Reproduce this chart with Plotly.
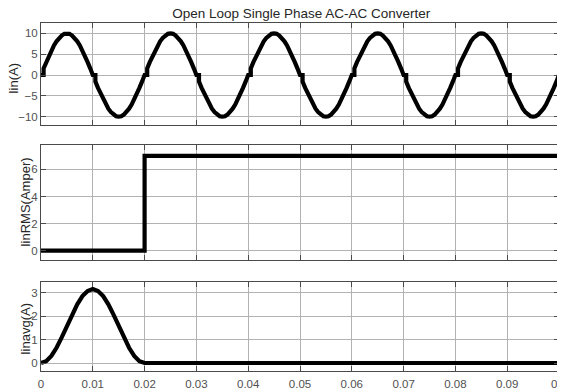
import plotly.graph_objects as go

# ---- data ----
title_text = "Open Loop Single Phase AC-AC Converter"
y_titles = ["Iin(A)", "IinRMS(Amper)", "Iinavg(A)"]

# Iin(A): sample times (s) and values (A)
iin_t = [
    0, 0.0005, 0.0005, 0.001, 0.0015, 0.002, 0.0025, 0.003, 0.0035, 0.004, 0.0045, 0.005, 0.0055, 0.006, 0.0065, 0.007, 0.0075, 0.008, 0.0085, 0.009, 0.0095,
    0.01, 0.0105, 0.0105, 0.011, 0.0115, 0.012, 0.0125, 0.013, 0.0135, 0.014, 0.0145, 0.015, 0.0155, 0.016, 0.0165, 0.017, 0.0175, 0.018, 0.0185, 0.019, 0.0195,
    0.02, 0.0205, 0.0205, 0.021, 0.0215, 0.022, 0.0225, 0.023, 0.0235, 0.024, 0.0245, 0.025, 0.0255, 0.026, 0.0265, 0.027, 0.0275, 0.028, 0.0285, 0.029, 0.0295,
    0.03, 0.0305, 0.0305, 0.031, 0.0315, 0.032, 0.0325, 0.033, 0.0335, 0.034, 0.0345, 0.035, 0.0355, 0.036, 0.0365, 0.037, 0.0375, 0.038, 0.0385, 0.039, 0.0395,
    0.04, 0.0405, 0.0405, 0.041, 0.0415, 0.042, 0.0425, 0.043, 0.0435, 0.044, 0.0445, 0.045, 0.0455, 0.046, 0.0465, 0.047, 0.0475, 0.048, 0.0485, 0.049, 0.0495,
    0.05, 0.0505, 0.0505, 0.051, 0.0515, 0.052, 0.0525, 0.053, 0.0535, 0.054, 0.0545, 0.055, 0.0555, 0.056, 0.0565, 0.057, 0.0575, 0.058, 0.0585, 0.059, 0.0595,
    0.06, 0.0605, 0.0605, 0.061, 0.0615, 0.062, 0.0625, 0.063, 0.0635, 0.064, 0.0645, 0.065, 0.0655, 0.066, 0.0665, 0.067, 0.0675, 0.068, 0.0685, 0.069, 0.0695,
    0.07, 0.0705, 0.0705, 0.071, 0.0715, 0.072, 0.0725, 0.073, 0.0735, 0.074, 0.0745, 0.075, 0.0755, 0.076, 0.0765, 0.077, 0.0775, 0.078, 0.0785, 0.079, 0.0795,
    0.08, 0.0805, 0.0805, 0.081, 0.0815, 0.082, 0.0825, 0.083, 0.0835, 0.084, 0.0845, 0.085, 0.0855, 0.086, 0.0865, 0.087, 0.0875, 0.088, 0.0885, 0.089, 0.0895,
    0.09, 0.0905, 0.0905, 0.091, 0.0915, 0.092, 0.0925, 0.093, 0.0935, 0.094, 0.0945, 0.095, 0.0955, 0.096, 0.0965, 0.097, 0.0975, 0.098, 0.0985, 0.099, 0.0995,
    0.1,
]
iin_a = [
    0, 0, 1.6, 3.1, 4.5, 5.9, 7.1, 8.1, 8.9, 9.5, 9.9, 10, 9.9, 9.5, 8.9, 8.1, 7.1, 5.9, 4.5, 3.1, 1.6,
    0, 0, -1.6, -3.1, -4.5, -5.9, -7.1, -8.1, -8.9, -9.5, -9.9, -10, -9.9, -9.5, -8.9, -8.1, -7.1, -5.9, -4.5, -3.1, -1.6,
    0, 0, 1.6, 3.1, 4.5, 5.9, 7.1, 8.1, 8.9, 9.5, 9.9, 10, 9.9, 9.5, 8.9, 8.1, 7.1, 5.9, 4.5, 3.1, 1.6,
    0, 0, -1.6, -3.1, -4.5, -5.9, -7.1, -8.1, -8.9, -9.5, -9.9, -10, -9.9, -9.5, -8.9, -8.1, -7.1, -5.9, -4.5, -3.1, -1.6,
    0, 0, 1.6, 3.1, 4.5, 5.9, 7.1, 8.1, 8.9, 9.5, 9.9, 10, 9.9, 9.5, 8.9, 8.1, 7.1, 5.9, 4.5, 3.1, 1.6,
    0, 0, -1.6, -3.1, -4.5, -5.9, -7.1, -8.1, -8.9, -9.5, -9.9, -10, -9.9, -9.5, -8.9, -8.1, -7.1, -5.9, -4.5, -3.1, -1.6,
    0, 0, 1.6, 3.1, 4.5, 5.9, 7.1, 8.1, 8.9, 9.5, 9.9, 10, 9.9, 9.5, 8.9, 8.1, 7.1, 5.9, 4.5, 3.1, 1.6,
    0, 0, -1.6, -3.1, -4.5, -5.9, -7.1, -8.1, -8.9, -9.5, -9.9, -10, -9.9, -9.5, -8.9, -8.1, -7.1, -5.9, -4.5, -3.1, -1.6,
    0, 0, 1.6, 3.1, 4.5, 5.9, 7.1, 8.1, 8.9, 9.5, 9.9, 10, 9.9, 9.5, 8.9, 8.1, 7.1, 5.9, 4.5, 3.1, 1.6,
    0, 0, -1.6, -3.1, -4.5, -5.9, -7.1, -8.1, -8.9, -9.5, -9.9, -10, -9.9, -9.5, -8.9, -8.1, -7.1, -5.9, -4.5, -3.1, -1.6,
    0,
]

# IinRMS(Amper)
rms_t = [0, 0.02, 0.02, 0.1]
rms_a = [0, 0, 7.0, 7.0]

# Iinavg(A)
avg_t = [0, 0.001, 0.002, 0.003, 0.004, 0.005, 0.006, 0.007, 0.008, 0.009, 0.01,
         0.011, 0.012, 0.013, 0.014, 0.015, 0.016, 0.017, 0.018, 0.019, 0.02, 0.1]
avg_a = [0, 0.08, 0.30, 0.65, 1.09, 1.58, 2.06, 2.50, 2.85, 3.07, 3.15,
         3.07, 2.85, 2.50, 2.06, 1.58, 1.09, 0.65, 0.30, 0.08, 0, 0]

x_ticks = [0, 0.01, 0.02, 0.03, 0.04, 0.05, 0.06, 0.07, 0.08, 0.09, 0.1]
x_ticklabels = ["0", "0.01", "0.02", "0.03", "0.04", "0.05", "0.06", "0.07", "0.08", "0.09", "0.1"]
y1_ticks = [-10, -5, 0, 5, 10]
y2_ticks = [0, 2, 4, 6]
y3_ticks = [0, 1, 2, 3]

# ---- styling ----
FONT = "Liberation Sans, Arial, sans-serif"
LINE = dict(color="black", width=4.2)
GRID = "#b2b2b2"
FRAME = "#4a4a4a"
TICKFONT = dict(family=FONT, size=11.5, color="#505050")

fig = go.Figure()
fig.add_trace(go.Scatter(x=iin_t, y=iin_a, mode="lines", line=LINE, xaxis="x", yaxis="y", showlegend=False))
fig.add_trace(go.Scatter(x=rms_t, y=rms_a, mode="lines", line=LINE, xaxis="x2", yaxis="y2", showlegend=False))
fig.add_trace(go.Scatter(x=avg_t, y=avg_a, mode="lines", line=LINE, xaxis="x3", yaxis="y3", showlegend=False))

def xax(anchor, labels):
    return dict(
        anchor=anchor, domain=[0, 1], range=[0, 0.1], tickvals=x_ticks, ticktext=x_ticklabels,
        showticklabels=labels, ticks="inside", ticklen=5, tickcolor=FRAME, mirror="allticks",
        showline=True, linecolor=FRAME, linewidth=1, showgrid=True, gridcolor=GRID, gridwidth=1,
        zeroline=False, tickfont=TICKFONT, fixedrange=True, automargin=False,
        ticklabeloverflow="allow", ticklabelstandoff=2,
    )

def yax(anchor, dom, rng, ticks):
    return dict(
        anchor=anchor, domain=dom, range=rng, tickvals=ticks,
        ticks="inside", ticklen=5, tickcolor=FRAME, mirror="allticks",
        showline=True, linecolor=FRAME, linewidth=1, showgrid=True, gridcolor=GRID, gridwidth=1,
        zeroline=False, tickfont=TICKFONT, fixedrange=True, automargin=False,
        ticklabeloverflow="allow",
    )

# the page body adds an 8px offset; margins compensate so the plot box lands at
# x 41..559, y 23..371 in the 565x390 window
fig.update_layout(
    width=565, height=390,
    margin=dict(l=33, r=14, t=15, b=27, autoexpand=False),
    paper_bgcolor="white", plot_bgcolor="white",
    xaxis=xax("y", False),
    xaxis2=xax("y2", False),
    xaxis3=xax("y3", True),
    yaxis=yax("x", [0.707, 1.0], [-12, 12.5], y1_ticks),
    yaxis2=yax("x2", [0.319, 0.649], [-0.7, 7.8], y2_ticks),
    yaxis3=yax("x3", [0.0, 0.257], [-0.34, 3.47], y3_ticks),
    title=dict(text=title_text, x=0.519, xanchor="center", y=0.9865, yanchor="middle",
               font=dict(family=FONT, size=13.5, color="#262626")),
)

# y-axis titles placed as rotated annotations (window px -> paper coords)
label_pos = [(13, 79), (25, 202), (25, 329)]
for txt, (px, py) in zip(y_titles, label_pos):
    fig.add_annotation(
        text=txt, textangle=-90, showarrow=False,
        xref="paper", yref="paper",
        x=(px - 41) / 518, y=(371 - py) / 348,
        xanchor="center", yanchor="middle",
        font=dict(family=FONT, size=13, color="#262626"),
    )

fig.write_html("out.html")
